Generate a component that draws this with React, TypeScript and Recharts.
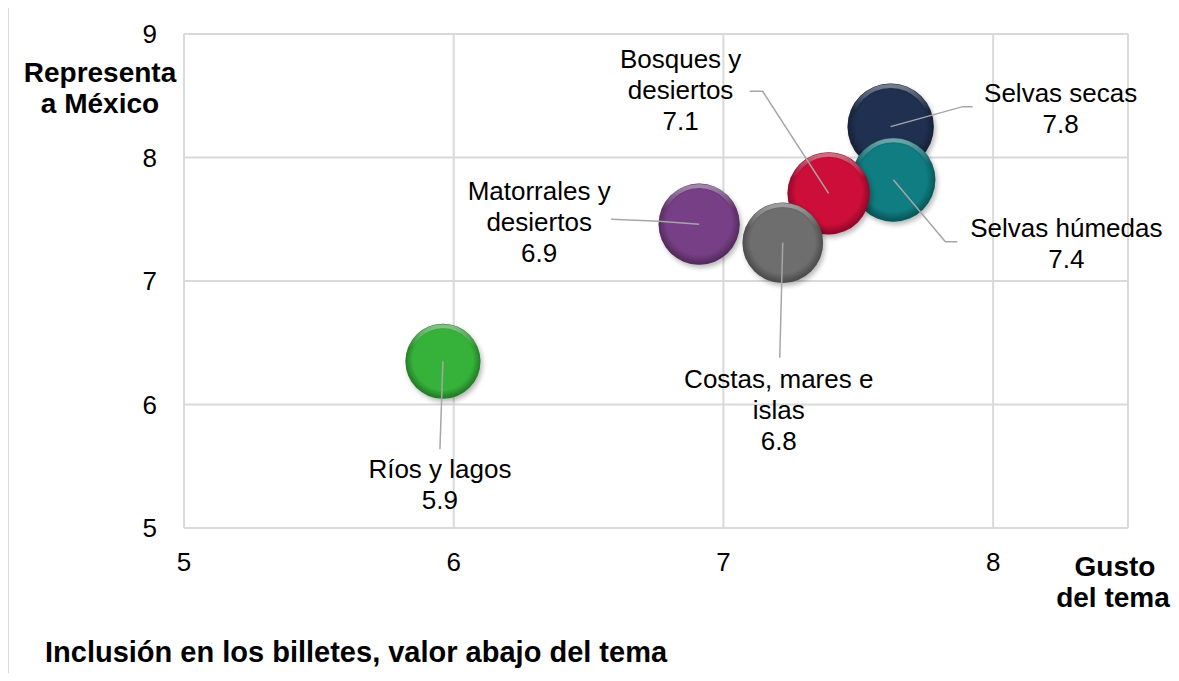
import React from "react";
import { ScatterChart, Scatter, XAxis, YAxis, ZAxis, CartesianGrid } from "recharts";

// data, in drawing order (largest bubble first, like Excel)
const categories = [
  "Selvas secas",
  "Selvas húmedas",
  "Bosques y desiertos",
  "Matorrales y desiertos",
  "Costas, mares e islas",
  "Ríos y lagos",
];
const gustoTema = [7.62, 7.63, 7.39, 6.91, 7.22, 5.96];
const representaMexico = [8.25, 7.82, 7.71, 7.46, 7.31, 6.35];
const inclusionBilletes = [7.8, 7.4, 7.1, 6.9, 6.8, 5.9];
const xTicks = [5, 6, 7, 8];
const yTicks = [5, 6, 7, 8, 9];

const rows = categories.map((name, i) => ({
  name,
  x: gustoTema[i],
  y: representaMexico[i],
  z: inclusionBilletes[i],
}));

const FONT = "'Liberation Sans', Arial, sans-serif";

const COLORS: Record<string, string> = {
  "Selvas secas": "#1f3050",
  "Selvas húmedas": "#0f7d81",
  "Bosques y desiertos": "#cc0e39",
  "Matorrales y desiertos": "#773f85",
  "Costas, mares e islas": "#6e6e6e",
  "Ríos y lagos": "#36b23a",
};

// leader line points and text anchor, relative to the bubble centre
const LABEL_POS: Record<string, { leader: number[][]; dx: number; dy: number }> = {
  "Selvas secas": { leader: [[0, 0], [72, -20], [82, -20]], dx: 170, dy: -25 },
  "Selvas húmedas": { leader: [[0, 0], [52, 62], [64, 62]], dx: 173, dy: 57 },
  "Bosques y desiertos": { leader: [[0, 0], [-66, -102], [-79, -102]], dx: -148, dy: -125 },
  "Matorrales y desiertos": { leader: [[0, 0], [-40, -3], [-88, -5]], dx: -160, dy: -24 },
  "Costas, mares e islas": { leader: [[0, 0], [-3, 115]], dx: -4, dy: 145 },
  "Ríos y lagos": { leader: [[0, 0], [-3, 88]], dx: -3, dy: 117 },
};

function wrap(text: string, max = 15) {
  const lines: string[] = [];
  let cur = "";
  text.split(" ").forEach((w) => {
    if (cur && (cur + " " + w).length > max) {
      lines.push(cur);
      cur = w;
    } else {
      cur = cur ? cur + " " + w : w;
    }
  });
  if (cur) lines.push(cur);
  return lines;
}

function Bubble(props: any) {
  const { cx, cy, width, payload } = props;
  if (cx == null || cy == null) return null;
  const r = width / 2;
  const color = COLORS[payload.name];
  const id = "b" + categories.indexOf(payload.name);
  return (
    <g>
      <defs>
        <radialGradient id={id + "-rim"} cx="50%" cy="48%" r="50%">
          <stop offset="0.8" stopColor="#000" stopOpacity={0} />
          <stop offset="1" stopColor="#000" stopOpacity={0.3} />
        </radialGradient>
        <linearGradient id={id + "-hl"} x1="0" y1="0" x2="0" y2="1">
          <stop offset="0" stopColor="#fff" stopOpacity={0.4} />
          <stop offset="0.3" stopColor="#fff" stopOpacity={0} />
        </linearGradient>
        <filter id={id + "-sh"} x="-30%" y="-30%" width="160%" height="160%">
          <feGaussianBlur stdDeviation="2.5" />
        </filter>
      </defs>
      <circle cx={cx + 2} cy={cy + 3} r={r} fill="#000" opacity={0.28} filter={`url(#${id}-sh)`} />
      <circle cx={cx} cy={cy} r={r} fill={color} />
      <circle cx={cx} cy={cy} r={r} fill={`url(#${id}-rim)`} />
      <circle cx={cx} cy={cy} r={r - 2.5} fill="none" stroke={`url(#${id}-hl)`} strokeWidth={4} />
    </g>
  );
}

function LeaderLabel(props: any) {
  const { cx, cy, payload } = props;
  if (cx == null || cy == null) return null;
  const pos = LABEL_POS[payload.name];
  const lines = [...wrap(payload.name), payload.z.toFixed(1)];
  return (
    <g>
      <polyline
        points={pos.leader.map((p) => `${cx + p[0]},${cy + p[1]}`).join(" ")}
        fill="none"
        stroke="#a6a6a6"
        strokeWidth={1.5}
      />
      {lines.map((t, i) => (
        <text
          key={i}
          x={cx + pos.dx}
          y={cy + pos.dy + i * 31}
          textAnchor="middle"
          fontSize={26}
          fontFamily={FONT}
          fill="#000"
        >
          {t}
        </text>
      ))}
    </g>
  );
}

const tickStyle = { fontSize: 26, fill: "#000", fontFamily: FONT };

export default function App() {
  return (
    <div
      style={{
        position: "relative",
        width: 1179,
        height: 681,
        margin: -8,
        overflow: "hidden",
        background: "#fff",
        fontFamily: FONT,
      }}
    >
      <div
        style={{
          position: "absolute",
          left: 7,
          top: 3,
          width: 1250,
          height: 750,
          border: "2px solid #d9d9d9",
        }}
      />
      <div style={{ position: "absolute", left: 0, top: 0 }}>
        <ScatterChart width={1179} height={681} margin={{ top: 34, right: 51, bottom: 93, left: 0 }}>
          <CartesianGrid stroke="#d9d9d9" strokeWidth={2} />
          <XAxis
            type="number"
            dataKey="x"
            domain={[5, 8.5]}
            ticks={xTicks}
            axisLine={false}
            tickLine={false}
            tickSize={0}
            tickMargin={25}
            height={60}
            tick={tickStyle}
          />
          <YAxis
            type="number"
            dataKey="y"
            domain={[5, 9]}
            ticks={yTicks}
            axisLine={false}
            tickLine={false}
            tickSize={0}
            tickMargin={27}
            width={184}
            tick={tickStyle}
          />
          <ZAxis type="number" dataKey="z" domain={[0, 8]} range={[0, 6000]} />
          <Scatter data={rows} shape={Bubble} isAnimationActive={false} />
          <Scatter data={rows} shape={LeaderLabel} isAnimationActive={false} />
        </ScatterChart>
      </div>
      <svg
        width={1179}
        height={681}
        style={{ position: "absolute", left: 0, top: 0, pointerEvents: "none" }}
        fontFamily={FONT}
        fontWeight="bold"
        fontSize={29}
      >
        <text x={483} y={-1} fill="#138a8f" textAnchor="middle">(</text>
        <text x={710} y={-1} fill="#138a8f" textAnchor="middle">)</text>
        <text x={100} y={82} textAnchor="middle" fontSize={28}>Representa</text>
        <text x={100} y={113} textAnchor="middle" fontSize={28}>a México</text>
        <text x={1115} y={576} textAnchor="middle" fontSize={28}>Gusto</text>
        <text x={1113} y={607} textAnchor="middle" fontSize={28}>del tema</text>
        <text x={45} y={662}>Inclusión en los billetes, valor abajo del tema</text>
      </svg>
    </div>
  );
}
